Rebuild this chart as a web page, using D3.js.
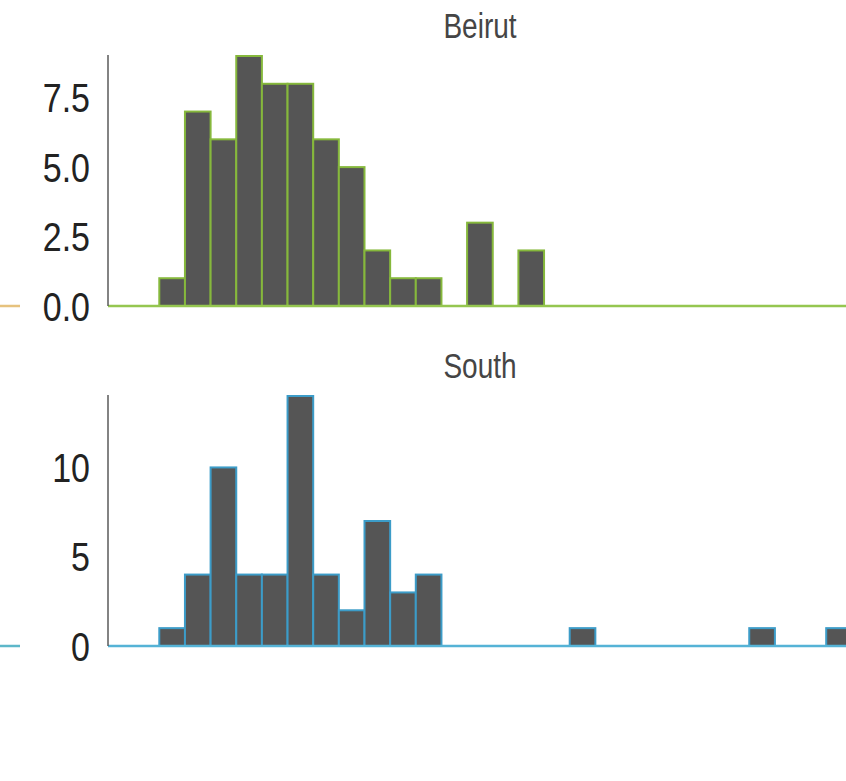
<!DOCTYPE html>
<html>
<head>
<meta charset="utf-8">
<script src="https://cdn.jsdelivr.net/npm/d3@7"></script>
<style>
  html, body { margin: 0; padding: 0; background: #fff; }
  svg { display: block; }
</style>
</head>
<body>
<svg id="chart" width="846" height="781"></svg>
<script>
// ---- data ----
const binIndex = d3.range(0, 29);              // histogram bins (index)
const beirutCounts = [0,0,1,7,6,9,8,8,6,5,2,1,1,0,3,0,2,0,0,0,0,0,0,0,0,0,0,0,0];
const southCounts  = [0,0,1,4,10,4,4,14,4,2,7,3,4,0,0,0,0,0,1,0,0,0,0,0,0,1,0,0,1];
const panelNames = ["Beirut", "South"];
const beirutTicks = [0, 2.5, 5, 7.5];
const southTicks = [0, 5, 10];

// ---- layout ----
const W = 846, H = 781;
const axisX = 108, binStep = 25.65;
const panelH = 250;
const panels = [
  { name: panelNames[0], counts: beirutCounts, ticks: beirutTicks, fmt: d3.format(".1f"),
    top: 56, stroke: "#86b83c", base: "#95c650", side: "#e6c27e" },
  { name: panelNames[1], counts: southCounts, ticks: southTicks, fmt: d3.format("d"),
    top: 396, stroke: "#3c9cc8", base: "#55b3d6", side: "#5db7c9" }
];

const svg = d3.select("#chart");
const x = d3.scaleLinear()
  .domain([0, binIndex.length])
  .range([axisX, axisX + binIndex.length * binStep]);

panels.forEach(p => {
  const yMax = d3.max(p.counts);
  const y = d3.scaleLinear().domain([0, yMax]).range([p.top + panelH, p.top]);
  const g = svg.append("g");

  // title
  g.append("text")
    .attr("transform", `translate(480,${p.top - 18}) scale(1,1.22)`)
    .attr("text-anchor", "middle")
    .attr("font-family", "Liberation Sans, Arial, sans-serif")
    .attr("font-size", 28)
    .attr("fill", "#454545")
    .text(p.name);

  // bars
  const data = binIndex.map((b, i) => ({ b, c: p.counts[i] })).filter(d => d.c > 0);
  g.selectAll("rect.bar").data(data).join("rect")
    .attr("class", "bar")
    .attr("x", d => x(d.b))
    .attr("y", d => y(d.c))
    .attr("width", d => x(d.b + 1) - x(d.b))
    .attr("height", d => y(0) - y(d.c))
    .attr("fill", "#555555")
    .attr("stroke", p.stroke)
    .attr("stroke-width", 2);

  // baseline
  g.append("line")
    .attr("x1", axisX).attr("x2", W)
    .attr("y1", y(0)).attr("y2", y(0))
    .attr("stroke", p.base).attr("stroke-width", 2.5);

  // neighbour panel baseline fragment at the left edge
  g.append("line")
    .attr("x1", 0).attr("x2", 20)
    .attr("y1", y(0)).attr("y2", y(0))
    .attr("stroke", p.side).attr("stroke-width", 2.5);

  // y axis
  const ax = d3.axisLeft(y).tickValues(p.ticks).tickFormat(p.fmt).tickSize(0).tickPadding(18);
  const axG = g.append("g").attr("transform", `translate(${axisX},0)`).call(ax);
  axG.select(".domain").remove();
  axG.append("line")
    .attr("x1", 0).attr("x2", 0)
    .attr("y1", y(0)).attr("y2", p.top - 1)
    .attr("stroke", "#5a5a5a").attr("stroke-width", 1.5);
  axG.selectAll(".tick text")
    .attr("font-family", "Liberation Sans, Arial, sans-serif")
    .attr("font-size", 34)
    .attr("fill", "#222")
    .attr("dy", null)
    .attr("dominant-baseline", "central")
    .attr("transform", "scale(1,1.2)")
    .attr("y", 0);
  // scale only around tick position: move tick groups handle translation
});
</script>
</body>
</html>
